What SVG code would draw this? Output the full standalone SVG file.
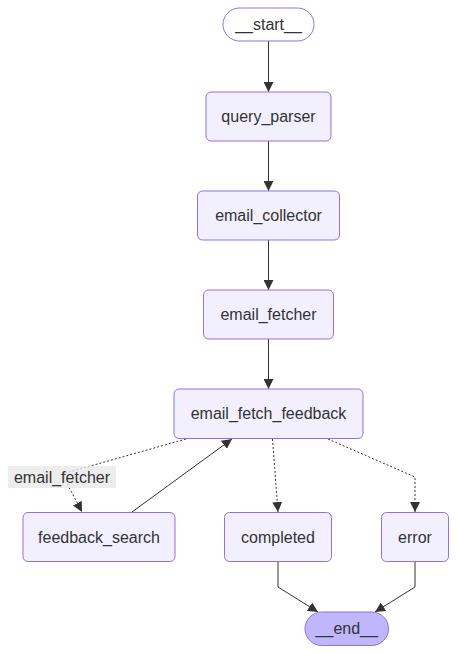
<svg xmlns="http://www.w3.org/2000/svg" width="456" height="654" viewBox="0 0 456 654">
<defs>
<style>
.node rect{fill:#f2f0ff;stroke:#9370db;stroke-width:1}
.node text{font-family:"Liberation Sans",Arial,sans-serif;font-size:16px;fill:#333;text-anchor:middle;dominant-baseline:central}
#start rect{fill:#ffffff}
#end rect{fill:#bfb6fc}
.edge{fill:none;stroke:#333;stroke-width:1}
.dotted{stroke-dasharray:2 2}
.lbl rect{fill:#e8e8e8;fill-opacity:0.8}
.lbl text{font-family:"Liberation Sans",Arial,sans-serif;font-size:16px;fill:#333;text-anchor:middle;dominant-baseline:central}
</style>
<marker id="arr" viewBox="0 0 10 10" refX="10" refY="5" markerWidth="10" markerHeight="10" markerUnits="userSpaceOnUse" orient="auto">
<path d="M0,0 L10,5 L0,10 z" fill="#333"/>
</marker>
</defs>
<g id="connectors">
<path class="edge" d="M268.5,41 L268.5,92" marker-end="url(#arr)"/>
<path class="edge" d="M268.5,141 L268.5,191" marker-end="url(#arr)"/>
<path class="edge" d="M268.5,240 L268.5,290" marker-end="url(#arr)"/>
<path class="edge" d="M268.5,339 L268.5,389" marker-end="url(#arr)"/>
<path class="edge dotted" d="M186,439 L62,474 L82,512" marker-end="url(#arr)"/>
<path class="edge" d="M132,512 L232,439" marker-end="url(#arr)"/>
<path class="edge dotted" d="M272.5,439 L278,512" marker-end="url(#arr)"/>
<path class="edge dotted" d="M328,439 L415,477 L415,512" marker-end="url(#arr)"/>
<path class="edge" d="M278,562 L278,587 L318,612" marker-end="url(#arr)"/>
<path class="edge" d="M415,562 L415,587 L375,612" marker-end="url(#arr)"/>
<g class="lbl">
<rect x="8" y="466" width="108" height="22"/>
<text x="62" y="477">email_fetcher</text>
</g>
</g>
<g id="start" class="node"><rect x="223" y="8" width="91" height="33" rx="16.5"/><text x="268.5" y="24.5">__start__</text></g>
<g id="query_parser" class="node"><rect x="206" y="92" width="125" height="49" rx="5"/><text x="268.5" y="116.5">query_parser</text></g>
<g id="email_collector" class="node"><rect x="197.5" y="191" width="142" height="49" rx="5"/><text x="268.5" y="215.5">email_collector</text></g>
<g id="email_fetcher" class="node"><rect x="203.5" y="290" width="130" height="49" rx="5"/><text x="268.5" y="314.5">email_fetcher</text></g>
<g id="email_fetch_feedback" class="node"><rect x="174" y="389" width="189" height="49.5" rx="5"/><text x="268.5" y="413.5">email_fetch_feedback</text></g>
<g id="feedback_search" class="node"><rect x="23" y="512.5" width="152" height="49" rx="5"/><text x="99" y="537">feedback_search</text></g>
<g id="completed" class="node"><rect x="224.5" y="512.5" width="107" height="49" rx="5"/><text x="278" y="537">completed</text></g>
<g id="error" class="node"><rect x="381.5" y="512.5" width="67" height="49" rx="5"/><text x="415" y="537">error</text></g>
<g id="end" class="node"><rect x="305" y="612" width="83.5" height="33.5" rx="16.75"/><text x="346.75" y="628.75">__end__</text></g>
</svg>
